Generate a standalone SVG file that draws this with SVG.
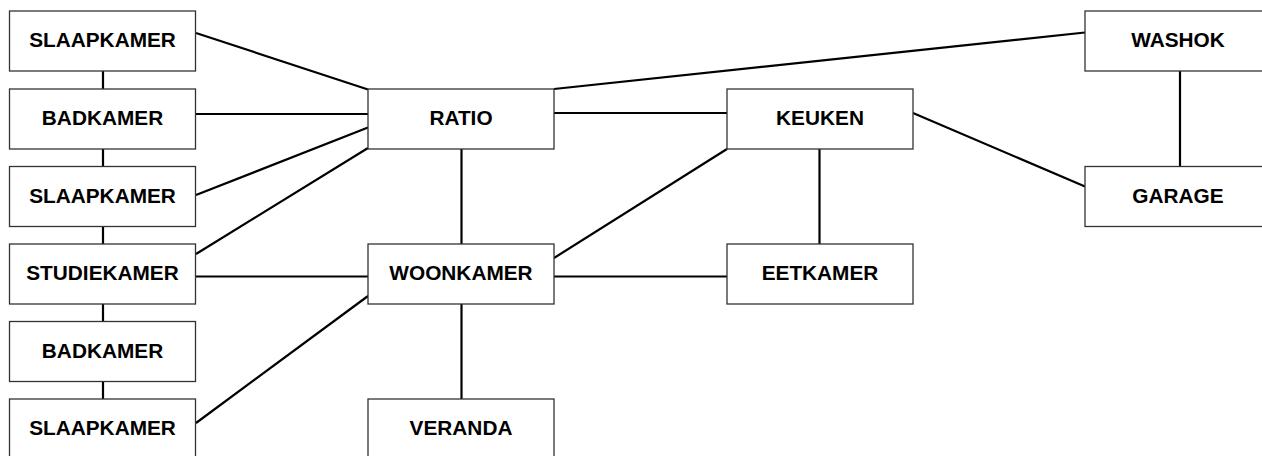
<svg xmlns="http://www.w3.org/2000/svg" width="1262" height="456" viewBox="0 0 1262 456">
<style>
.box{fill:#fff;stroke:#333;stroke-width:1.3}
.lbl{font-family:"Liberation Sans",Arial,sans-serif;font-weight:bold;font-size:20.8px;fill:#000;text-anchor:middle}
.c{stroke:#000;stroke-width:2.2;fill:none}
</style>
<rect width="1262" height="456" fill="#fff"/>
<g id="connectors">
<line class="c" x1="103" y1="71" x2="103" y2="89"/>
<line class="c" x1="103" y1="149" x2="103" y2="166"/>
<line class="c" x1="103" y1="226" x2="103" y2="244"/>
<line class="c" x1="103" y1="304" x2="103" y2="322"/>
<line class="c" x1="103" y1="382" x2="103" y2="399"/>
<line class="c" x1="196" y1="33" x2="368" y2="89.5"/>
<line class="c" x1="196" y1="114" x2="368" y2="114"/>
<line class="c" x1="196" y1="195" x2="368" y2="127.5"/>
<line class="c" x1="196" y1="254" x2="368" y2="148"/>
<line class="c" x1="196" y1="276.5" x2="368" y2="276.5"/>
<line class="c" x1="196" y1="423" x2="368" y2="296"/>
<line class="c" x1="461.5" y1="149" x2="461.5" y2="244"/>
<line class="c" x1="461.5" y1="304" x2="461.5" y2="399"/>
<line class="c" x1="554" y1="113" x2="727" y2="113"/>
<line class="c" x1="554" y1="89" x2="1085" y2="32.5"/>
<line class="c" x1="913" y1="113" x2="1085" y2="186.5"/>
<line class="c" x1="819.5" y1="149" x2="819.5" y2="244"/>
<line class="c" x1="727" y1="149" x2="554" y2="258"/>
<line class="c" x1="554" y1="276.5" x2="727" y2="276.5"/>
<line class="c" x1="1180" y1="71" x2="1180" y2="166.5"/>
</g>
<g id="slaapkamer1"><rect class="box" x="9.5" y="11" width="186" height="60"/><text class="lbl" x="102.5" y="47">SLAAPKAMER</text></g>
<g id="badkamer1"><rect class="box" x="9.5" y="89" width="186" height="60"/><text class="lbl" x="102.5" y="125">BADKAMER</text></g>
<g id="slaapkamer2"><rect class="box" x="9.5" y="166.5" width="186" height="60"/><text class="lbl" x="102.5" y="202.5">SLAAPKAMER</text></g>
<g id="studiekamer"><rect class="box" x="9.5" y="244" width="186" height="60"/><text class="lbl" x="102.5" y="280">STUDIEKAMER</text></g>
<g id="badkamer2"><rect class="box" x="9.5" y="321.5" width="186" height="60"/><text class="lbl" x="102.5" y="357.5">BADKAMER</text></g>
<g id="slaapkamer3"><rect class="box" x="9.5" y="399" width="186" height="60"/><text class="lbl" x="102.5" y="435">SLAAPKAMER</text></g>
<g id="ratio"><rect class="box" x="368" y="89" width="186" height="60"/><text class="lbl" x="461" y="125">RATIO</text></g>
<g id="woonkamer"><rect class="box" x="368" y="244" width="186" height="60"/><text class="lbl" x="461" y="280">WOONKAMER</text></g>
<g id="veranda"><rect class="box" x="368" y="399" width="186" height="60"/><text class="lbl" x="461" y="435">VERANDA</text></g>
<g id="keuken"><rect class="box" x="727" y="89" width="186" height="60"/><text class="lbl" x="820" y="125">KEUKEN</text></g>
<g id="eetkamer"><rect class="box" x="727" y="244" width="186" height="60"/><text class="lbl" x="820" y="280">EETKAMER</text></g>
<g id="washok"><rect class="box" x="1085" y="11" width="186" height="60"/><text class="lbl" x="1178" y="47">WASHOK</text></g>
<g id="garage"><rect class="box" x="1085" y="166.5" width="186" height="60"/><text class="lbl" x="1178" y="202.5">GARAGE</text></g>
</svg>
